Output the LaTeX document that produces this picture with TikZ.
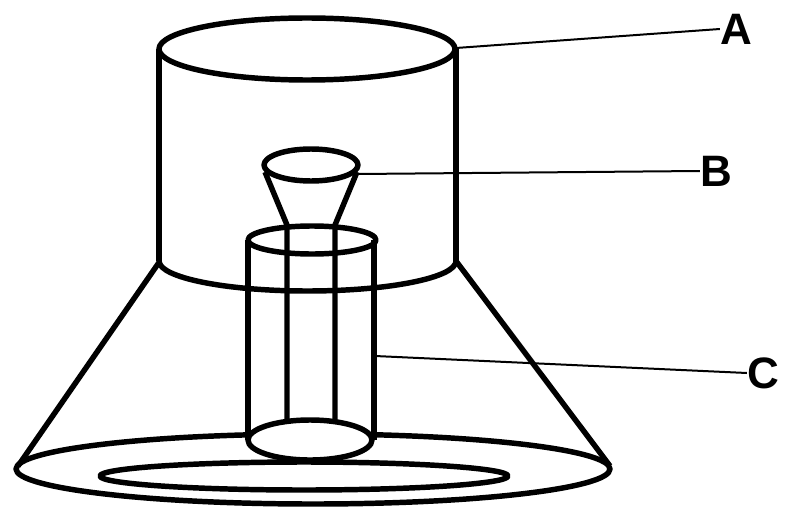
\documentclass[tikz,border=0pt]{standalone}
\usepackage{fontspec}
\setmainfont{Liberation Sans}
\usetikzlibrary{positioning, calc}
\tikzset{
  wall/.style={draw=black, line width=4.1pt, line join=round},
  leader/.style={draw=black, line width=1.5pt},
  letter/.style={font=\fontsize{33}{36}\selectfont\bfseries, inner sep=0pt, text=black}
}

\begin{document}
\begin{tikzpicture}[x=0.75pt, y=-0.75pt]
  \useasboundingbox (0, 0) rectangle (787, 506);

  % Outer jar
  \draw[wall] (159, 49) -- (159, 261);
  \draw[wall] (456, 49) -- (456, 261);
  \draw[wall] (307, 49) ellipse [x radius=148, y radius=31];
  \draw[wall] (159, 261) arc [start angle=180, end angle=0, x radius=148.5, y radius=30];

  % Flared foot
  \draw[wall] (160, 261) -- (18, 466);
  \draw[wall] (456, 261) -- (610, 466);
  \draw[wall] (313, 469) ellipse [x radius=297, y radius=35];

  % Funnel and stem
  \draw[wall] (265, 172) -- (287, 225) -- (287, 422);
  \draw[wall] (357, 172) -- (335, 225) -- (335, 422);
  \draw[wall] (311, 165) ellipse [x radius=47, y radius=16];

  % Tube
  \draw[wall] (248, 240) -- (248, 440);
  \draw[wall] (374, 240) -- (374, 440);
  \draw[wall] (312, 240) ellipse [x radius=64, y radius=14];
  \draw[wall, fill=white] (310, 440) ellipse [x radius=62, y radius=20];

  % Dish
  \draw[wall, fill=white] (304, 476) ellipse [x radius=204, y radius=14];

  % Labels
  \node[letter] (labelA) at (736, 29) {A};
  \node[letter] (labelB) at (716, 171) {B};
  \node[letter] (labelC) at (763, 373) {C};
  \coordinate (jarEdge) at (456, 48);
  \coordinate (funnelEdge) at (358, 174);
  \coordinate (tubeEdge) at (375, 356);
  \draw[leader] (jarEdge) -- (labelA.west);
  \draw[leader] (funnelEdge) -- (labelB.west);
  \draw[leader] (tubeEdge) -- (labelC.west);
\end{tikzpicture}
\end{document}
